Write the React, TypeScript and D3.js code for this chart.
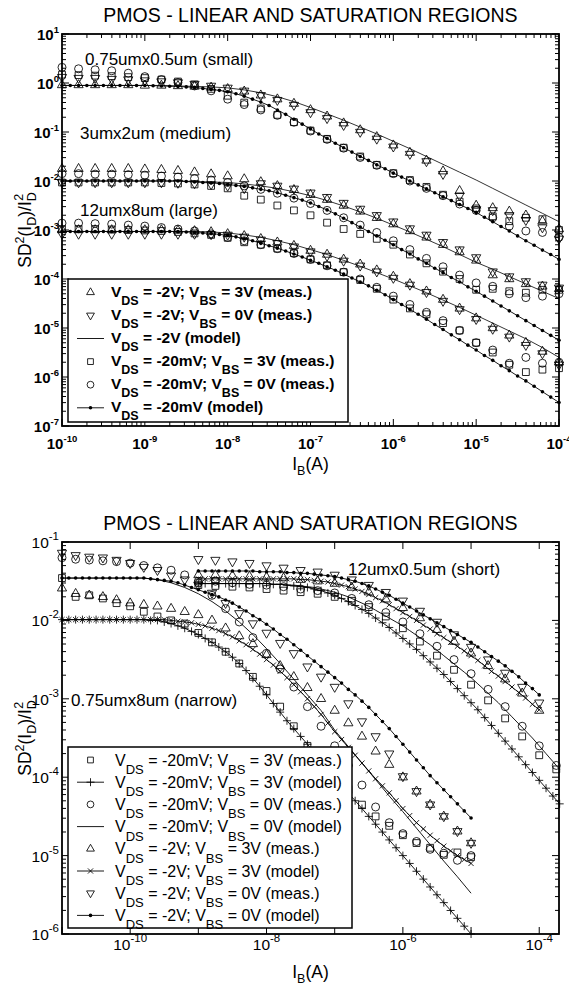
import React from 'react'
import * as d3 from 'd3'

const FONT = '"Liberation Sans", Arial, Helvetica, sans-serif'
const X0 = 62
const X1 = 559

// evenly spaced log10(I_B) grids used by the measurements / model curves
const grid = (start: number, step: number, n: number) =>
  d3.range(n).map(i => Math.round((start + i * step) * 100) / 100)

// ---------------- top panel: log10 of SD2(ID)/ID2 ----------------
const topMeasX = grid(-10, 0.2, 31)
const topDotX = grid(-10, 0.1, 61)

// 0.75um x 0.5um (small)
const smallTriUp = [-0.04,-0.04,-0.04,-0.04,-0.04,-0.05,-0.05,-0.06,-0.07,-0.09,-0.12,-0.17,-0.25,-0.33,-0.42,-0.55,-0.68,-0.82,-0.96,-1.1,-1.27,-1.42,-1.58,-1.8,-2.2,-2.5,-2.55,-2.62,-2.7,-2.82,-2.98]
const smallTriDown = [0.12,0.1,0.1,0.08,0.07,0.05,0.03,0.01,-0.02,-0.06,-0.1,-0.16,-0.25,-0.35,-0.45,-0.6,-0.72,-0.86,-1.0,-1.14,-1.3,-1.45,-1.6,-1.86,-2.3,-2.58,-2.6,-2.7,-2.8,-2.95,-3.18]
const smallSquare = [0.17,0.16,0.15,0.14,0.12,0.1,0.07,0.03,-0.03,-0.12,-0.26,-0.4,-0.52,-0.65,-0.8,-0.97,-1.14,-1.32,-1.5,-1.67,-1.84,-1.98,-2.12,-2.28,-2.42,-2.56,-2.72,-2.82,-2.75,-2.78,-3.0]
const smallCircle = [0.32,0.29,0.27,0.25,0.2,0.13,0.07,0.01,-0.06,-0.16,-0.33,-0.44,-0.55,-0.66,-0.8,-0.98,-1.15,-1.33,-1.52,-1.68,-1.85,-2.0,-2.15,-2.3,-2.47,-2.6,-2.75,-2.92,-3.02,-3.05,-3.15]
const smallModel2V = [-0.05,-0.05,-0.05,-0.05,-0.05,-0.05,-0.05,-0.06,-0.07,-0.08,-0.1,-0.14,-0.2,-0.28,-0.38,-0.5,-0.63,-0.76,-0.9,-1.04,-1.19,-1.34,-1.5,-1.66,-1.82,-1.98,-2.15,-2.32,-2.49,-2.66,-2.83]
const smallModel20 = [-0.05,-0.05,-0.05,-0.05,-0.05,-0.05,-0.05,-0.05,-0.05,-0.05,-0.05,-0.055,-0.06,-0.065,-0.07,-0.08,-0.09,-0.11,-0.13,-0.15,-0.18,-0.22,-0.27,-0.33,-0.39,-0.46,-0.55,-0.64,-0.74,-0.84,-0.94,-1.04,-1.13,-1.23,-1.32,-1.41,-1.5,-1.58,-1.67,-1.75,-1.84,-1.92,-2.0,-2.08,-2.16,-2.24,-2.32,-2.4,-2.48,-2.56,-2.64,-2.74,-2.83,-2.93,-3.02,-3.12,-3.22,-3.31,-3.41,-3.5,-3.6]

// 3um x 2um (medium)
const medTriUp = [-1.75,-1.75,-1.75,-1.75,-1.75,-1.76,-1.77,-1.79,-1.82,-1.86,-1.9,-1.96,-2.02,-2.1,-2.18,-2.28,-2.38,-2.5,-2.62,-2.75,-2.88,-3.02,-3.15,-3.3,-3.45,-3.62,-3.92,-4.0,-4.1,-4.15,-4.2]
const medTriDown = [-2.03,-2.03,-2.03,-2.03,-2.03,-2.03,-2.03,-2.04,-2.05,-2.07,-2.1,-2.15,-2.05,-2.1,-2.16,-2.24,-2.33,-2.45,-2.57,-2.7,-2.83,-2.97,-3.1,-3.25,-3.4,-3.56,-3.85,-3.95,-4.05,-4.12,-4.18]
const medSquare = [-2.03,-2.03,-2.03,-2.03,-2.03,-2.03,-2.04,-2.05,-2.07,-2.1,-2.15,-2.3,-2.38,-2.5,-2.6,-2.7,-2.85,-2.98,-3.08,-3.18,-3.3,-3.5,-3.68,-3.85,-4.0,-4.22,-4.2,-4.25,-4.28,-4.22,-4.22]
const medCircle = [-1.85,-1.85,-1.86,-1.86,-1.87,-1.88,-1.9,-1.92,-1.95,-1.98,-2.03,-2.1,-2.17,-2.25,-2.35,-2.46,-2.6,-2.75,-2.9,-3.05,-3.22,-3.4,-3.58,-3.75,-3.92,-4.08,-4.15,-4.3,-4.38,-4.35,-4.3]
const medModel2V = [-2.0,-2.0,-2.0,-2.0,-2.0,-2.0,-2.0,-2.0,-2.01,-2.02,-2.03,-2.06,-2.1,-2.15,-2.22,-2.3,-2.4,-2.51,-2.63,-2.76,-2.9,-3.04,-3.19,-3.34,-3.5,-3.66,-3.8,-3.95,-4.1,-4.25,-4.4]
const medModel20 = [-2.0,-2.0,-2.0,-2.0,-2.0,-2.0,-2.0,-2.0,-2.0,-2.0,-2.0,-2.0,-2.0,-2.0,-2.0,-2.01,-2.02,-2.03,-2.04,-2.05,-2.07,-2.09,-2.11,-2.14,-2.17,-2.2,-2.24,-2.29,-2.34,-2.39,-2.45,-2.52,-2.59,-2.67,-2.76,-2.85,-2.94,-3.03,-3.12,-3.21,-3.3,-3.4,-3.49,-3.59,-3.68,-3.78,-3.87,-3.97,-4.06,-4.16,-4.25,-4.35,-4.45,-4.55,-4.65,-4.75,-4.85,-4.95,-5.05,-5.15,-5.25]

// 12um x 8um (large)
const largeTriUp = [-3.0,-3.0,-3.0,-3.0,-3.0,-3.0,-3.0,-3.01,-3.02,-3.04,-3.08,-3.12,-3.18,-3.25,-3.32,-3.42,-3.5,-3.6,-3.7,-3.82,-3.95,-4.1,-4.25,-4.42,-4.6,-4.8,-5.0,-5.15,-5.3,-5.48,-5.7]
const largeTriDown = [-3.08,-3.08,-3.08,-3.08,-3.08,-3.08,-3.08,-3.08,-3.08,-3.09,-3.1,-3.14,-3.2,-3.27,-3.34,-3.44,-3.53,-3.63,-3.73,-3.85,-3.98,-4.12,-4.27,-4.45,-4.62,-4.82,-5.02,-5.18,-5.35,-5.52,-5.75]
const largeSquare = [-2.98,-2.98,-2.98,-2.99,-3.0,-3.01,-3.02,-3.04,-3.07,-3.1,-3.16,-3.25,-3.3,-3.38,-3.47,-3.6,-3.72,-3.86,-4.02,-4.2,-4.42,-4.6,-4.72,-4.9,-5.05,-5.3,-5.5,-5.75,-5.9,-5.85,-5.82]
const largeCircle = [-2.86,-2.86,-2.87,-2.88,-2.9,-2.92,-2.95,-2.98,-3.02,-3.08,-3.15,-3.22,-3.3,-3.38,-3.48,-3.6,-3.73,-3.86,-4.0,-4.17,-4.35,-4.52,-4.68,-4.85,-5.05,-5.3,-5.45,-5.72,-5.6,-5.72,-5.7]
const largeModel2V = [-3.03,-3.03,-3.03,-3.03,-3.03,-3.03,-3.03,-3.03,-3.03,-3.04,-3.06,-3.1,-3.15,-3.22,-3.3,-3.4,-3.5,-3.62,-3.74,-3.87,-4.0,-4.14,-4.28,-4.43,-4.58,-4.74,-4.9,-5.06,-5.22,-5.4,-5.6]
const largeModel20 = [-3.03,-3.03,-3.03,-3.03,-3.03,-3.03,-3.03,-3.03,-3.03,-3.03,-3.03,-3.03,-3.03,-3.03,-3.03,-3.04,-3.05,-3.06,-3.07,-3.09,-3.11,-3.14,-3.18,-3.22,-3.27,-3.32,-3.37,-3.43,-3.49,-3.55,-3.62,-3.68,-3.75,-3.82,-3.9,-3.98,-4.06,-4.14,-4.23,-4.32,-4.42,-4.52,-4.62,-4.72,-4.82,-4.93,-5.03,-5.14,-5.24,-5.35,-5.45,-5.56,-5.66,-5.77,-5.87,-5.98,-6.08,-6.19,-6.3,-6.41,-6.52]

// ---------------- bottom panel ----------------
// 12um x 0.5um (short)
const shortMeasX = grid(-9, 0.25, 22)
const short2VX = grid(-9, 0.1, 51)
const short20X = grid(-9, 0.1, 54)
const shortTriDown = [-1.22,-1.23,-1.25,-1.27,-1.3,-1.33,-1.36,-1.38,-1.42,-1.48,-1.55,-1.64,-1.75,-1.88,-2.02,-2.18,-2.34,-2.5,-2.67,-2.85,-3.05]
const shortTriUp = [-1.42,-1.42,-1.43,-1.44,-1.45,-1.46,-1.48,-1.5,-1.53,-1.58,-1.64,-1.73,-1.84,-1.97,-2.12,-2.27,-2.42,-2.58,-2.75,-2.93,-3.15]
const shortSquare = [-1.55,-1.56,-1.57,-1.58,-1.6,-1.62,-1.64,-1.66,-1.7,-1.75,-1.83,-1.95,-2.1,-2.27,-2.45,-2.63,-2.82,-3.02,-3.25,-3.48,-3.72,-3.9]
const shortCircle = [-1.5,-1.5,-1.52,-1.54,-1.55,-1.57,-1.6,-1.62,-1.65,-1.72,-1.8,-1.9,-2.02,-2.17,-2.33,-2.5,-2.68,-2.88,-3.1,-3.35,-3.6,-3.85]
const shortModelDot = [-1.37,-1.37,-1.37,-1.37,-1.37,-1.37,-1.37,-1.37,-1.37,-1.38,-1.38,-1.38,-1.38,-1.39,-1.39,-1.4,-1.4,-1.41,-1.42,-1.43,-1.44,-1.46,-1.48,-1.5,-1.53,-1.56,-1.6,-1.64,-1.68,-1.73,-1.78,-1.83,-1.88,-1.93,-1.98,-2.03,-2.08,-2.13,-2.18,-2.23,-2.28,-2.34,-2.4,-2.46,-2.52,-2.58,-2.65,-2.72,-2.8,-2.87,-2.95]
const shortModelCross = [-1.47,-1.47,-1.47,-1.47,-1.47,-1.47,-1.47,-1.47,-1.47,-1.47,-1.47,-1.47,-1.47,-1.47,-1.47,-1.48,-1.48,-1.49,-1.5,-1.51,-1.53,-1.55,-1.57,-1.6,-1.63,-1.67,-1.71,-1.75,-1.8,-1.85,-1.9,-1.95,-2.0,-2.06,-2.11,-2.17,-2.22,-2.28,-2.33,-2.39,-2.45,-2.51,-2.58,-2.65,-2.71,-2.78,-2.85,-2.92,-2.99,-3.07,-3.14]
const shortModelThin = [-1.53,-1.53,-1.53,-1.53,-1.53,-1.53,-1.53,-1.53,-1.53,-1.53,-1.53,-1.54,-1.54,-1.55,-1.55,-1.56,-1.57,-1.58,-1.6,-1.62,-1.64,-1.67,-1.7,-1.74,-1.78,-1.82,-1.87,-1.92,-1.97,-2.02,-2.07,-2.13,-2.19,-2.25,-2.31,-2.38,-2.45,-2.52,-2.59,-2.66,-2.73,-2.81,-2.89,-2.97,-3.05,-3.14,-3.23,-3.32,-3.41,-3.5,-3.6,-3.7,-3.8,-3.9]
const shortModelPlus = [-1.53,-1.53,-1.53,-1.53,-1.53,-1.53,-1.53,-1.53,-1.53,-1.53,-1.53,-1.54,-1.54,-1.55,-1.56,-1.57,-1.58,-1.6,-1.62,-1.65,-1.68,-1.72,-1.76,-1.81,-1.86,-1.91,-1.97,-2.03,-2.09,-2.16,-2.23,-2.3,-2.37,-2.45,-2.53,-2.61,-2.69,-2.78,-2.87,-2.96,-3.05,-3.14,-3.24,-3.34,-3.44,-3.54,-3.64,-3.74,-3.84,-3.94,-4.04,-4.14,-4.24,-4.34]

// 0.75um x 8um (narrow)
const narrowMeasX = grid(-11, 0.2, 31)
const narrowModelX = grid(-11, 0.1, 61)
const narrowTriDown = [-1.14,-1.17,-1.19,-1.2,-1.23,-1.27,-1.32,-1.36,-1.43,-1.48,-1.55,-1.65,-1.78,-1.91,-2.04,-2.16,-2.29,-2.42,-2.59,-2.72,-2.85,-3.06,-3.29,-3.48,-3.7,-3.99,-4.18,-4.35,-4.5,-4.69,-4.84]
const narrowTriUp = [-1.59,-1.66,-1.68,-1.7,-1.74,-1.78,-1.8,-1.82,-1.85,-1.89,-1.93,-2.0,-2.1,-2.2,-2.3,-2.44,-2.58,-2.72,-2.86,-3.0,-3.15,-3.31,-3.48,-3.67,-3.84,-4.0,-4.18,-4.35,-4.5,-4.69,-4.84]
const narrowCircle = [-1.2,-1.22,-1.23,-1.24,-1.25,-1.27,-1.3,-1.33,-1.36,-1.42,-1.52,-1.68,-1.85,-2.02,-2.22,-2.42,-2.62,-2.85,-3.1,-3.35,-3.6,-3.85,-4.1,-4.38,-4.58,-4.72,-4.82,-4.92,-4.97,-5.06,-5.0]
const narrowSquare = [-1.46,-1.7,-1.68,-1.72,-1.78,-1.82,-1.89,-1.95,-2.0,-2.04,-2.16,-2.28,-2.4,-2.55,-2.72,-2.9,-3.1,-3.35,-3.6,-3.85,-4.02,-4.15,-4.35,-4.5,-4.62,-4.74,-4.84,-4.9,-4.99,-4.96,-5.02]
const narrowModelThin = [-1.46,-1.46,-1.46,-1.46,-1.46,-1.46,-1.46,-1.48,-1.52,-1.58,-1.66,-1.76,-1.88,-2.02,-2.18,-2.36,-2.55,-2.75,-2.95,-3.15,-3.4,-3.61,-3.82,-4.03,-4.24,-4.44,-4.65,-4.86,-5.07,-5.27,-5.48]
const narrowModelDot = [-1.46,-1.46,-1.46,-1.46,-1.46,-1.46,-1.46,-1.46,-1.46,-1.46,-1.46,-1.46,-1.46,-1.47,-1.48,-1.49,-1.5,-1.52,-1.55,-1.58,-1.61,-1.64,-1.67,-1.7,-1.74,-1.78,-1.83,-1.88,-1.94,-1.99,-2.05,-2.11,-2.18,-2.24,-2.31,-2.38,-2.45,-2.52,-2.59,-2.66,-2.73,-2.8,-2.88,-2.95,-3.03,-3.11,-3.2,-3.29,-3.38,-3.48,-3.58,-3.68,-3.78,-3.88,-3.98,-4.07,-4.16,-4.25,-4.34,-4.43,-4.52]
const narrowModelPlus = [-1.99,-1.99,-1.99,-1.99,-1.99,-1.99,-1.99,-1.99,-1.99,-1.99,-1.99,-1.99,-1.99,-2.0,-2.0,-2.02,-2.04,-2.07,-2.1,-2.14,-2.18,-2.23,-2.28,-2.34,-2.4,-2.47,-2.55,-2.64,-2.74,-2.84,-2.95,-3.06,-3.17,-3.28,-3.38,-3.48,-3.58,-3.68,-3.78,-3.88,-3.98,-4.09,-4.2,-4.3,-4.4,-4.5,-4.6,-4.7,-4.8,-4.9,-5.0,-5.1,-5.2,-5.3,-5.4,-5.5,-5.6,-5.7,-5.8,-5.9,-6.0]
const narrowModelCross = [-1.99,-1.99,-1.99,-1.99,-1.99,-1.99,-1.99,-1.99,-1.99,-1.99,-1.99,-1.99,-1.99,-1.99,-1.99,-1.99,-2.0,-2.01,-2.02,-2.03,-2.05,-2.07,-2.1,-2.13,-2.17,-2.21,-2.26,-2.31,-2.37,-2.43,-2.5,-2.57,-2.65,-2.73,-2.82,-2.91,-3.0,-3.1,-3.2,-3.31,-3.42,-3.52,-3.62,-3.72,-3.82,-3.92,-4.02,-4.11,-4.2,-4.3,-4.4,-4.49,-4.58,-4.66,-4.74,-4.81,-4.88,-4.94,-5.0,-5.05,-5.1]

// ---------------- legend texts ----------------
const topLegend = [
  { sym: 'triUp', label: 'V_{DS} = -2V; V_{BS} = 3V (meas.)' },
  { sym: 'triDown', label: 'V_{DS} = -2V; V_{BS} = 0V (meas.)' },
  { sym: 'line', label: 'V_{DS} = -2V (model)' },
  { sym: 'square', label: 'V_{DS} = -20mV; V_{BS} = 3V (meas.)' },
  { sym: 'circle', label: 'V_{DS} = -20mV; V_{BS} = 0V (meas.)' },
  { sym: 'lineDot', label: 'V_{DS} = -20mV (model)' },
]
const bottomLegend = [
  { sym: 'square', label: 'V_{DS} = -20mV; V_{BS} = 3V (meas.)' },
  { sym: 'linePlus', label: 'V_{DS} = -20mV; V_{BS} = 3V (model)' },
  { sym: 'circle', label: 'V_{DS} = -20mV; V_{BS} = 0V (meas.)' },
  { sym: 'line', label: 'V_{DS} = -20mV; V_{BS} = 0V (model)' },
  { sym: 'triUp', label: 'V_{DS} = -2V; V_{BS} = 3V (meas.)' },
  { sym: 'lineCross', label: 'V_{DS} = -2V; V_{BS} = 3V (model)' },
  { sym: 'triDown', label: 'V_{DS} = -2V; V_{BS} = 0V (meas.)' },
  { sym: 'lineDot', label: 'V_{DS} = -2V; V_{BS} = 0V (model)' },
]

type Mark = 'triUp' | 'triDown' | 'square' | 'circle' | 'plus' | 'cross' | 'dot'
type Series = { x: number[]; y: number[]; mark?: Mark; line?: boolean; lw?: number }

const PATHS: Record<string, string> = {
  triUp: 'M0,-5.3L4.6,2.7L-4.6,2.7Z',
  triDown: 'M0,5.3L4.6,-2.7L-4.6,-2.7Z',
  square: 'M-3.4,-3.4H3.4V3.4H-3.4Z',
  plus: 'M-4,0H4M0,-4V4',
  cross: 'M-2.6,-2.6L2.6,2.6M-2.6,2.6L2.6,-2.6',
}

const Marker = ({ type, x, y, s = 1 }: { type: Mark; x: number; y: number; s?: number }) => {
  if (type === 'circle')
    return <circle cx={x} cy={y} r={4 * s} fill="none" stroke="#000" strokeWidth={0.85} />
  if (type === 'dot') return <circle cx={x} cy={y} r={1.8} fill="#000" />
  return (
    <path
      transform={`translate(${x},${y}) scale(${s})`}
      d={PATHS[type]}
      fill="none"
      stroke="#000"
      strokeWidth={0.85 / s}
    />
  )
}

// text with _{sub} parts
const RichText = ({ x, y, text, size, subSize, subDy, bold }: any) => {
  const parts = text.split(/_\{([^}]*)\}/)
  const out: any[] = []
  parts.forEach((p: string, i: number) => {
    if (p === '') return
    if (i % 2 === 1) {
      out.push(<tspan key={i} dy={subDy} fontSize={subSize}>{p}</tspan>)
    } else {
      out.push(<tspan key={i} dy={i === 0 ? 0 : -subDy} fontSize={size}>{p}</tspan>)
    }
  })
  return (
    <text x={x} y={y} fontWeight={bold ? 'bold' : 'normal'} style={{ whiteSpace: 'pre' }}>
      {out}
    </text>
  )
}

const Pow = ({ x, y, exp, anchor, size, supSize, supDy, bold }: any) => (
  <text x={x} y={y} textAnchor={anchor} fontSize={size} fontWeight={bold ? 'bold' : 'normal'}>
    10<tspan dy={supDy} fontSize={supSize}>{exp}</tspan>
  </text>
)

const Panel = (p: any) => {
  const { top, bottom, xExp, yExp, series, bold } = p
  const x = d3.scaleLog().domain([10 ** xExp[0], 10 ** xExp[1]]).range([X0, X1])
  const y = d3.scaleLog().domain([10 ** yExp[0], 10 ** yExp[1]]).range([bottom, top])
  const pathOf = (s: Series) =>
    d3
      .line<[number, number]>()
      .x(d => x(10 ** d[0]))
      .y(d => y(10 ** d[1]))(s.x.map((v, i) => [v, s.y[i]] as [number, number]))

  const xMajor = d3.range(Math.ceil(xExp[0]), Math.floor(xExp[1]) + 1)
  const yMajor = d3.range(Math.ceil(yExp[0]), Math.floor(yExp[1]) + 1)
  const minors = (e0: number, e1: number) => {
    const out: number[] = []
    for (let e = Math.floor(e0); e < Math.ceil(e1); e++)
      for (let k = 2; k <= 9; k++) {
        const v = k * 10 ** e
        if (v > 10 ** e0 && v < 10 ** e1) out.push(v)
      }
    return out
  }
  const xMinor = p.xMinor ? minors(xExp[0], xExp[1]) : []
  const yMinor = minors(yExp[0], yExp[1])
  const MJ = 7
  const MN = 4
  const lg = p.legend

  return (
    <g>
      <text x={(X0 + X1) / 2} y={top - 12} textAnchor="middle" fontSize={19.5}>
        PMOS - LINEAR AND SATURATION REGIONS
      </text>

      {/* model lines */}
      {series.filter((s: Series) => s.line).map((s: Series, i: number) => (
        <path key={'l' + i} d={pathOf(s) || ''} fill="none" stroke="#000" strokeWidth={s.lw ?? 0.9} />
      ))}
      {/* markers */}
      {series.filter((s: Series) => s.mark).map((s: Series, i: number) => (
        <g key={'m' + i}>
          {s.x.map((v, j) => (
            <Marker key={j} type={s.mark as Mark} x={x(10 ** v)} y={y(10 ** s.y[j])} />
          ))}
        </g>
      ))}

      {/* ticks */}
      <g stroke="#000" strokeWidth={1}>
        {xMajor.map(e => (
          <g key={'xm' + e}>
            <line x1={x(10 ** e)} x2={x(10 ** e)} y1={bottom} y2={bottom - MJ} />
            <line x1={x(10 ** e)} x2={x(10 ** e)} y1={top} y2={top + MJ} />
          </g>
        ))}
        {xMinor.map((v, i) => (
          <g key={'xn' + i}>
            <line x1={x(v)} x2={x(v)} y1={bottom} y2={bottom - MN} />
            <line x1={x(v)} x2={x(v)} y1={top} y2={top + MN} />
          </g>
        ))}
        {yMajor.map(e => (
          <g key={'ym' + e}>
            <line x1={X0} x2={X0 + MJ} y1={y(10 ** e)} y2={y(10 ** e)} />
            <line x1={X1} x2={X1 - MJ} y1={y(10 ** e)} y2={y(10 ** e)} />
          </g>
        ))}
        {yMinor.map((v, i) => (
          <g key={'yn' + i}>
            <line x1={X0} x2={X0 + MN} y1={y(v)} y2={y(v)} />
            <line x1={X1} x2={X1 - MN} y1={y(v)} y2={y(v)} />
          </g>
        ))}
      </g>
      <rect x={X0} y={top} width={X1 - X0} height={bottom - top} fill="none" stroke="#000" strokeWidth={1.8} />

      {/* tick labels */}
      {xMajor.filter(e => e % p.xLabelStep === 0).map(e => (
        <Pow key={'xl' + e} x={x(10 ** e)} y={bottom + p.xLabelDy} exp={String(e)} anchor="middle"
          size={p.tickSize} supSize={p.supSize} supDy={p.supDy} bold={bold} />
      ))}
      {yMajor.map(e => (
        <Pow key={'yl' + e} x={X0 - 3} y={y(10 ** e) + 6} exp={String(e)} anchor="end"
          size={p.tickSize} supSize={p.supSize} supDy={p.supDy} bold={bold} />
      ))}

      {/* axis titles */}
      <text x={(X0 + X1) / 2} y={bottom + 44} textAnchor="middle" fontSize={17.5}>
        I<tspan dy={5} fontSize={12.5}>B</tspan><tspan dy={-5}>(A)</tspan>
      </text>
      <text transform={`translate(31,${(top + bottom) / 2}) rotate(-90)`} textAnchor="middle" fontSize={17.5}>
        SD<tspan dy={-7} fontSize={12.5}>2</tspan>
        <tspan dy={7}>(I</tspan>
        <tspan dy={5} fontSize={12.5}>D</tspan>
        <tspan dy={-5}>)/I</tspan>
        <tspan dy={5} fontSize={12.5}>D</tspan>
        <tspan dx={-8.5} dy={-13} fontSize={12.5}>2</tspan>
      </text>

      {p.notes.map((n: any, i: number) => (
        <text key={'n' + i} x={n.x} y={n.y} fontSize={17}>{n.text}</text>
      ))}

      {/* legend */}
      <rect x={lg.x} y={lg.y} width={lg.w} height={lg.h} fill="#fff" stroke="#000" strokeWidth={1.5} />
      {lg.items.map((it: any, i: number) => {
        const ry = lg.rowY0 + i * lg.rowStep
        const sx = 90.5
        const isLine = it.sym.startsWith('line')
        const lm: Record<string, Mark> = { lineDot: 'dot', linePlus: 'plus', lineCross: 'cross' }
        return (
          <g key={'lg' + i}>
            {isLine ? (
              <g>
                <line x1={77} x2={104} y1={ry} y2={ry} stroke="#000" strokeWidth={0.9} />
                {lm[it.sym] && <Marker type={lm[it.sym]} x={sx} y={ry} />}
              </g>
            ) : (
              <Marker type={it.sym} x={sx} y={ry} s={0.85} />
            )}
            <RichText x={lg.textX} y={ry + lg.baseDy} text={it.label} size={lg.size}
              subSize={lg.subSize} subDy={lg.subDy} bold={bold} />
          </g>
        )
      })}
    </g>
  )
}

const topSeries: Series[] = [
  { x: topMeasX, y: smallModel2V, line: true, lw: 0.8 },
  { x: topDotX, y: smallModel20, line: true, mark: 'dot' },
  { x: topMeasX, y: medModel2V, line: true, lw: 0.8 },
  { x: topDotX, y: medModel20, line: true, mark: 'dot' },
  { x: topMeasX, y: largeModel2V, line: true, lw: 0.8 },
  { x: topDotX, y: largeModel20, line: true, mark: 'dot' },
  { x: topMeasX, y: smallTriUp, mark: 'triUp' },
  { x: topMeasX, y: smallTriDown, mark: 'triDown' },
  { x: topMeasX, y: smallSquare, mark: 'square' },
  { x: topMeasX, y: smallCircle, mark: 'circle' },
  { x: topMeasX, y: medTriUp, mark: 'triUp' },
  { x: topMeasX, y: medTriDown, mark: 'triDown' },
  { x: topMeasX, y: medSquare, mark: 'square' },
  { x: topMeasX, y: medCircle, mark: 'circle' },
  { x: topMeasX, y: largeTriUp, mark: 'triUp' },
  { x: topMeasX, y: largeTriDown, mark: 'triDown' },
  { x: topMeasX, y: largeSquare, mark: 'square' },
  { x: topMeasX, y: largeCircle, mark: 'circle' },
]

const bottomSeries: Series[] = [
  { x: short2VX, y: shortModelDot, line: true, mark: 'dot' },
  { x: short2VX, y: shortModelCross, line: true, mark: 'cross' },
  { x: short20X, y: shortModelThin, line: true },
  { x: short20X, y: shortModelPlus, line: true, mark: 'plus' },
  { x: narrowModelX, y: narrowModelDot, line: true, mark: 'dot' },
  { x: narrowModelX, y: narrowModelCross, line: true, mark: 'cross' },
  { x: narrowMeasX, y: narrowModelThin, line: true },
  { x: narrowModelX, y: narrowModelPlus, line: true, mark: 'plus' },
  { x: shortMeasX.slice(0, 21), y: shortTriDown, mark: 'triDown' },
  { x: shortMeasX.slice(0, 21), y: shortTriUp, mark: 'triUp' },
  { x: shortMeasX, y: shortSquare, mark: 'square' },
  { x: shortMeasX, y: shortCircle, mark: 'circle' },
  { x: narrowMeasX, y: narrowTriDown, mark: 'triDown' },
  { x: narrowMeasX, y: narrowTriUp, mark: 'triUp' },
  { x: narrowMeasX, y: narrowSquare, mark: 'square' },
  { x: narrowMeasX, y: narrowCircle, mark: 'circle' },
]

export default function App() {
  return (
    <svg
      width={569}
      height={987}
      style={{ position: 'absolute', left: 0, top: 0, background: '#fff' }}
      fontFamily={FONT}
    >
      <rect width={569} height={987} fill="#fff" />
      <Panel
        top={34}
        bottom={426}
        xExp={[-10, -4]}
        yExp={[-7, 1]}
        xMinor={true}
        xLabelStep={1}
        xLabelDy={23}
        bold={true}
        tickSize={15}
        supSize={9.5}
        supDy={-7}
        series={topSeries}
        notes={[
          { text: '0.75umx0.5um (small)', x: 85, y: 65 },
          { text: '3umx2um (medium)', x: 80, y: 139 },
          { text: '12umx8um (large)', x: 80, y: 216 },
        ]}
        legend={{
          x: 68, y: 279, w: 280, h: 143, rowY0: 292.3, rowStep: 23.1, textX: 111,
          baseDy: 4.5, size: 15.5, subSize: 12.5, subDy: 8, items: topLegend,
        }}
      />
      <Panel
        top={542}
        bottom={934}
        xExp={[-11, -3.71]}
        yExp={[-6, -1]}
        xMinor={false}
        xLabelStep={2}
        xLabelDy={16}
        bold={false}
        tickSize={15.5}
        supSize={11.5}
        supDy={-8}
        series={bottomSeries}
        notes={[
          { text: '12umx0.5um (short)', x: 348, y: 575 },
          { text: '0.75umx8um (narrow)', x: 71, y: 706 },
        ]}
        legend={{
          x: 68, y: 747, w: 284, h: 181, rowY0: 760, rowStep: 22.2, textX: 115,
          baseDy: 5.5, size: 16, subSize: 13, subDy: 8.5, items: bottomLegend,
        }}
      />
    </svg>
  )
}
